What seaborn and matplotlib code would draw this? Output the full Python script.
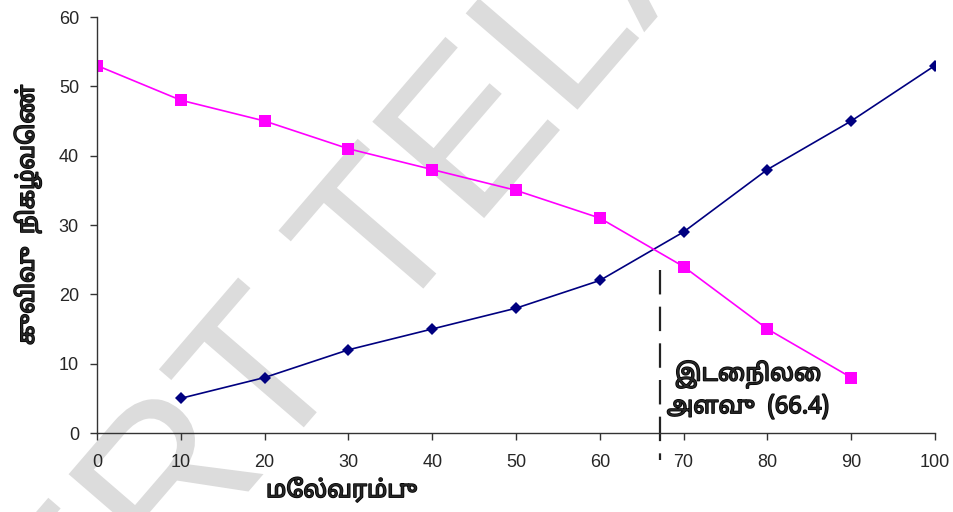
import numpy as np
import pandas as pd
import matplotlib.pyplot as plt
import matplotlib.patheffects as pe
import seaborn as sns
from matplotlib.textpath import TextPath
from matplotlib.patches import PathPatch
from matplotlib.transforms import Affine2D
from matplotlib.font_manager import FontProperties

# data
less_x = [10, 20, 30, 40, 50, 60, 70, 80, 90, 100]
less_y = [5, 8, 12, 15, 18, 22, 29, 38, 45, 53]
more_x = [0, 10, 20, 30, 40, 50, 60, 70, 80, 90]
more_y = [53, 48, 45, 41, 38, 35, 31, 24, 15, 8]
median_x = 67.2
median_label = "இடைநிலை\nஅளவு  (66.4)"
x_label = "மேல்வரம்பு"
y_label = "குவிவு  நிகழ்வெண்"
watermark = "SCERT TELANGANA"

sns.set_style("ticks")
plt.rcParams["font.family"] = ["Liberation Sans", "DejaVu Sans"]
tamil = ["Noto Sans Tamil", "Lohit Tamil", "Noto Sans", "DejaVu Sans"]
# tamil font has no bold face here, so thicken it a bit
heavy = [pe.withStroke(linewidth=1.1, foreground="black")]

fig = plt.figure(figsize=(9.54, 5.12), dpi=100)
ax = fig.add_axes([97 / 954, 1 - 433 / 512, 838 / 954, 416 / 512])
ax.set_facecolor("none")

# watermark behind the chart, rotated, in pixel coords
wm_path = TextPath((0, 0), watermark, size=1, prop=FontProperties(family="Liberation Sans"))
wm_tr = Affine2D().scale(214.5).rotate_deg(49.25).translate(-119, -406)
fig.add_artist(PathPatch(wm_path, transform=wm_tr, facecolor="#dcdcdc",
                         edgecolor="none", zorder=-1))

less_df = pd.DataFrame({"x": less_x, "y": less_y})
more_df = pd.DataFrame({"x": more_x, "y": more_y})
sns.lineplot(data=less_df, x="x", y="y", ax=ax, color="#000080", marker="D",
             markersize=6.6, linewidth=1.2, markeredgewidth=0)
sns.lineplot(data=more_df, x="x", y="y", ax=ax, color="#ff00ff", marker="s",
             markersize=9.2, linewidth=1.2, markeredgewidth=0)

ax.plot([median_x, median_x], [23.5, -3.9], color="#222222", linewidth=1.6,
        linestyle=(0, (11, 5.5)), clip_on=False)
ax.text(77.7, 2.0, median_label, fontsize=17, fontweight="bold", family=tamil,
        ha="center", va="bottom", linespacing=1.3, path_effects=heavy)

ax.set_xlim(0, 100)
ax.set_ylim(0, 60)
ax.set_xticks(range(0, 101, 10))
ax.set_yticks(range(0, 61, 10))
ax.tick_params(labelsize=13, length=5, width=1, color="#333333")
ax.tick_params(axis="x", pad=10)
ax.tick_params(axis="y", pad=8)
ax.set_xlabel(x_label, fontsize=17, fontweight="bold", family=tamil, path_effects=heavy)
ax.xaxis.set_label_coords(0.292, -0.108)
ax.set_ylabel(y_label, fontsize=17, fontweight="bold", family=tamil, path_effects=heavy)
ax.yaxis.set_label_coords(-0.066, 0.524)
for s in ["top", "right"]:
    ax.spines[s].set_visible(False)
for s in ["left", "bottom"]:
    ax.spines[s].set_color("#333333")
    ax.spines[s].set_linewidth(1)

fig.savefig("out.png", dpi=100)
